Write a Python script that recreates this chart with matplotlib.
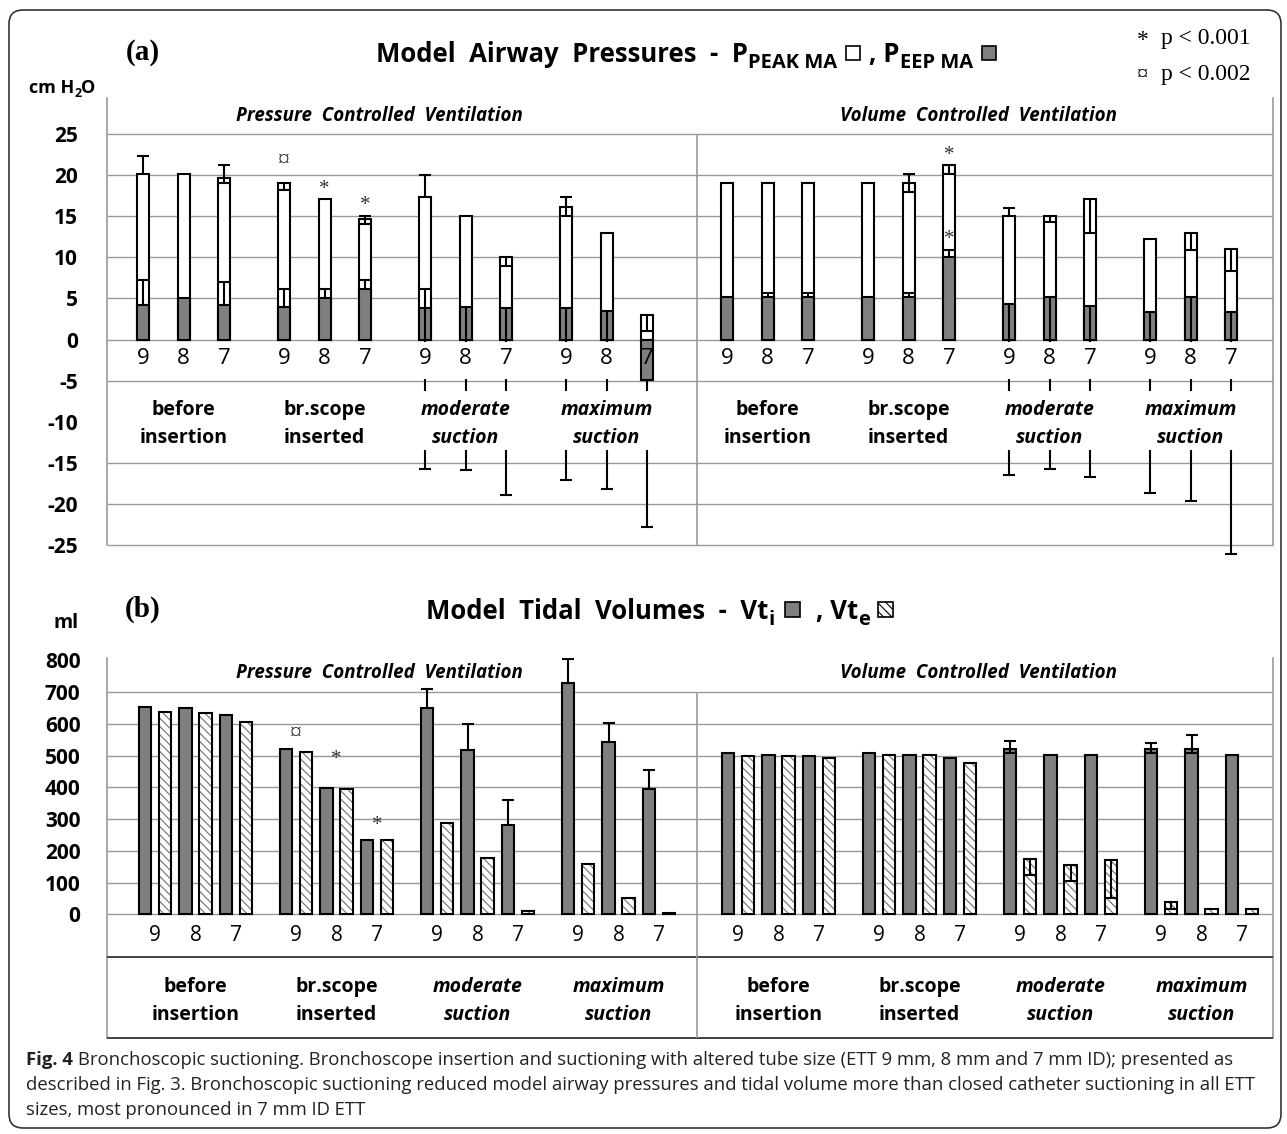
import numpy as np
import matplotlib
matplotlib.use('Agg')
import matplotlib.pyplot as plt
from matplotlib.patches import Rectangle, FancyBboxPatch
from matplotlib.transforms import IdentityTransform

nan = np.nan

# ---- categories ----
sizes = ['9', '8', '7']
phases = ['before\ninsertion', 'br.scope\ninserted', 'moderate\nsuction', 'maximum\nsuction']
phase_italic = [False, False, True, True]
modes = ['Pressure  Controlled  Ventilation', 'Volume  Controlled  Ventilation']

# ---- panel (a): airway pressures, cm H2O (order: phase x ETT 9/8/7) ----
pcv_peak    = [20.1, 20.1, 19.7, 19.0, 17.1, 14.7, 17.3, 15.1, 10.1, 16.1, 13.0, 3.0]
pcv_peak_up = [22.3, nan, 21.3, nan, nan, 15.1, 20.0, nan, nan, 17.3, nan, nan]
pcv_peak_dn = [nan, nan, 19.1, 18.2, nan, 14.1, nan, nan, 9.0, 15.1, nan, 1.0]
pcv_peep    = [4.2, 5.1, 4.2, 4.0, 5.1, 6.1, 3.9, 4.0, 3.9, 3.9, 3.5, -4.9]
pcv_peep_up = [7.2, nan, 7.0, 6.1, 6.2, 7.2, 6.1, nan, nan, nan, nan, nan]
pcv_peep_dn = [nan, nan, nan, nan, nan, nan, -15.7, -15.9, -18.9, -17.1, -18.2, -22.8]

vcv_peak    = [19.1, 19.1, 19.1, 19.1, 19.1, 21.2, 15.1, 15.1, 17.1, 12.3, 13.0, 11.0]
vcv_peak_up = [nan, nan, nan, nan, 20.1, nan, 16.0, nan, nan, nan, nan, nan]
vcv_peak_dn = [nan, nan, nan, nan, 18.0, 20.2, nan, 14.3, 13.0, nan, 10.9, 8.3]
vcv_peep    = [5.2, 5.2, 5.2, 5.2, 5.2, 10.1, 4.3, 5.2, 4.1, 3.3, 5.2, 3.3]
vcv_peep_up = [nan, 5.7, 5.7, nan, 5.7, 10.9, nan, nan, nan, nan, nan, nan]
vcv_peep_dn = [nan, nan, nan, nan, nan, nan, -16.5, -15.7, -16.7, -18.7, -19.7, -26.1]

# significance marks: (mode, index, series, symbol)
a_marks = [(0, 3, 'peak', '¤'), (0, 4, 'peak', '*'), (0, 5, 'peak', '*'),
           (1, 5, 'peak', '*'), (1, 5, 'peep', '*')]

# ---- panel (b): tidal volumes, ml ----
pcv_vti    = [654, 648, 627, 519, 398, 235, 649, 518, 282, 727, 544, 393]
pcv_vti_up = [nan, nan, nan, nan, nan, nan, 709, 599, 361, 803, 602, 453]
pcv_vti_dn = [nan] * 12
pcv_vte    = [638, 634, 606, 512, 393, 235, 288, 176, 10, 158, 52, 4]
pcv_vte_dn = [nan] * 12

vcv_vti    = [509, 503, 498, 509, 503, 491, 519, 503, 503, 519, 519, 503]
vcv_vti_up = [nan, nan, nan, nan, nan, nan, 547, nan, nan, 540, 565, nan]
vcv_vti_dn = [nan, nan, nan, nan, nan, nan, 507, nan, nan, 509, 508, nan]
vcv_vte    = [498, 498, 491, 503, 503, 477, 174, 155, 170, 38, 17, 17]
vcv_vte_dn = [nan, nan, nan, nan, nan, nan, 123, 105, 50, 18, nan, nan]

b_marks = [(0, 3, '¤'), (0, 4, '*'), (0, 5, '*')]

caption_lines = [
    'Bronchoscopic suctioning. Bronchoscope insertion and suctioning with altered tube size (ETT 9 mm, 8 mm and 7 mm ID); presented as',
    'described in Fig. 3. Bronchoscopic suctioning reduced model airway pressures and tidal volume more than closed catheter suctioning in all ETT',
    'sizes, most pronounced in 7 mm ID ETT',
]

# ---- layout ----
W, H = 1287, 1134
X0, X1 = 107, 1273          # plot frame in pixels (used as x data units)
DIV = 697                   # PCV | VCV divider
GROUP, INTRA = 141, 40.5
GREY = '#7f7f7f'
GRID = '#999999'
FONT = 'Open Sans'

plt.rcParams['hatch.color'] = '#707070'
plt.rcParams['hatch.linewidth'] = 0.8
plt.rcParams['axes.unicode_minus'] = False

fig = plt.figure(figsize=(W / 100, H / 100), dpi=100)
ID = IdentityTransform()


def xpos(base):
    return [base + GROUP * g + INTRA * i for g in range(4) for i in range(3)]


def ftext(x, y, s, **kw):
    return fig.text(x, H - y, s, transform=ID, **kw)


def run(x, y, pieces):
    ren = fig.canvas.get_renderer()
    for p in pieces:
        if p[0] == 'txt':
            t = ftext(x, y + p[3], p[1], ha='left', va='baseline', **p[2])
            x += t.get_window_extent(ren).width
        elif p[0] == 'gap':
            x += p[1]
        else:
            s, fc, hatch = p[1], p[2], p[3]
            fig.add_artist(Rectangle((x, H - y + 2), s, s, transform=ID, facecolor=fc,
                                     edgecolor='black', lw=1.2, hatch=hatch))
            x += s


def cap(ax, x, y0, y1, z=3, clip=True, hw=6):
    ax.vlines(x, y0, y1, color='black', lw=1.5, zorder=z, clip_on=clip)
    ax.hlines(y1, x - hw, x + hw, color='black', lw=1.5, zorder=z, clip_on=clip)


def frame(ax, ylo, yhi):
    ax.set_xlim(X0, X1)
    ax.set_ylim(ylo, yhi)
    ax.set_xticks([])
    for s in ['top', 'bottom']:
        ax.spines[s].set_visible(False)
    for s in ['left', 'right']:
        ax.spines[s].set_color(GRID)
        ax.spines[s].set_linewidth(1.2)
    ax.tick_params(axis='y', length=0, labelsize=15)
    for lab in ax.get_yticklabels():
        lab.set_fontweight('bold')
        lab.set_fontfamily(FONT)


def labels(ax, base, y_num, y_cat1, y_cat2, num_size):
    for m, b in enumerate(base):
        xs = xpos(b)
        for k, x in enumerate(xs):
            ax.text(x, y_num, sizes[k % 3], ha='center', va='baseline', fontsize=num_size,
                    family=FONT, zorder=6)
        for g in range(4):
            xc = xs[3 * g + 1]
            l1, l2 = phases[g].split('\n')
            st = 'italic' if phase_italic[g] else 'normal'
            for yy, s in [(y_cat1, l1), (y_cat2, l2)]:
                ax.text(xc, yy, s, ha='center', va='baseline', fontsize=14, weight='bold',
                        style=st, family=FONT, zorder=6)


# ================= panel (a) =================
ax = fig.add_axes([X0 / W, 1 - 545 / H, (X1 - X0) / W, (545 - 98) / H])
ticks_a = list(range(-25, 30, 5))
ax.set_yticks(ticks_a)
frame(ax, -25, 29.4)
ax.tick_params(axis='y', pad=21)
ax.hlines(ticks_a, X0, X1, color=GRID, lw=1.0, zorder=0.5, clip_on=False)
ax.vlines(DIV, -25, 25, color=GRID, lw=1.2, zorder=4)
ax.axhspan(-4.8, -0.3, color='white', lw=0, zorder=1.5)
ax.axhspan(-13.4, -6.3, color='white', lw=0, zorder=1.5)

BW = 12
a_series = [
    (xpos(143), pcv_peak, pcv_peak_up, pcv_peak_dn, pcv_peep, pcv_peep_up, pcv_peep_dn),
    (xpos(727), vcv_peak, vcv_peak_up, vcv_peak_dn, vcv_peep, vcv_peep_up, vcv_peep_dn),
]
for xs, pk, pku, pkd, pe, peu, ped in a_series:
    ax.bar(xs, pk, BW, color='white', edgecolor='black', lw=1.5, zorder=2)
    ax.bar(xs, pe, BW, color=GREY, edgecolor='black', lw=1.5, zorder=2.2)
    for x, p, pu, pd_, e, eu, ed in zip(xs, pk, pku, pkd, pe, peu, ped):
        if not np.isnan(pu):
            cap(ax, x, p, pu)
        if not np.isnan(pd_):
            cap(ax, x, p, pd_)
        if not np.isnan(eu):
            cap(ax, x, e, eu)
        if not np.isnan(ed):
            cap(ax, x, e, ed, z=1, clip=False)
            if e > 0:
                ax.vlines(x, 0, e, color='black', lw=1.5, zorder=3)

mark_off_a = {'*': 4, '¤': 13}
mark_size = {'*': 15, '¤': 17}
for m, i, ser, sym in a_marks:
    xs, pk, pku, pkd, pe, peu, ped = a_series[m]
    if ser == 'peak':
        top = np.nanmax([pk[i], pku[i]])
    else:
        top = np.nanmax([pe[i], peu[i]])
    ax.annotate(sym, (xs[i], top), xytext=(0, mark_off_a[sym]), textcoords='offset points',
                ha='center', va='baseline', fontsize=mark_size[sym], family='Liberation Serif',
                color='#333333', zorder=6)

labels(ax, [143, 727], -2.93, -9.2, -12.6, 16)
for xm, s in zip([379, 979], modes):
    ax.text(xm, 26.6, s, ha='center', va='baseline', fontsize=13.5, weight='bold',
            style='italic', family=FONT)

# ================= panel (b) =================
bx = fig.add_axes([X0 / W, 1 - 1038 / H, (X1 - X0) / W, (1038 - 658) / H])
ticks_b = list(range(0, 900, 100))
bx.set_yticks(ticks_b)
frame(bx, -389.5, 807)
bx.tick_params(axis='y', pad=19)
bx.hlines(ticks_b[:-1], X0, X1, color=GRID, lw=1.0, zorder=0.5)
bx.hlines([-134.4, -389.5], X0, X1, color='#404040', lw=1.4, zorder=4, clip_on=False)
bx.vlines(DIV, -389.5, 700, color=GRID, lw=1.2, zorder=4)

BWB, OFF = 12.5, 10
b_series = [
    (xpos(155), pcv_vti, pcv_vti_up, pcv_vti_dn, pcv_vte, pcv_vte_dn),
    (xpos(738), vcv_vti, vcv_vti_up, vcv_vti_dn, vcv_vte, vcv_vte_dn),
]
for xs, vi, viu, vid, ve, ved in b_series:
    xi = [x - OFF for x in xs]
    xe = [x + OFF for x in xs]
    bx.bar(xi, vi, BWB, color=GREY, edgecolor='black', lw=1.5, zorder=2)
    bx.bar(xe, ve, BWB, color='white', edgecolor='#707070', lw=0, hatch='\\\\\\\\', zorder=2)
    bx.bar(xe, ve, BWB, fill=False, edgecolor='black', lw=1.5, zorder=2.1)
    for x, v, u, d in zip(xi, vi, viu, vid):
        if not np.isnan(u):
            cap(bx, x, v, u)
        if not np.isnan(d):
            cap(bx, x, v, d)
    for x, v, d in zip(xe, ve, ved):
        if not np.isnan(d):
            cap(bx, x, v, d)

mark_off_b = {'*': 7, '¤': 8}
for m, i, sym in b_marks:
    xs, vi, viu, vid, ve, ved = b_series[m]
    top = max(vi[i], ve[i])
    bx.annotate(sym, (xs[i], top), xytext=(0, mark_off_b[sym] + (10 if i == 4 else 0)),
                textcoords='offset points', ha='center', va='baseline',
                fontsize=mark_size[sym], family='Liberation Serif', color='#333333', zorder=6)

labels(bx, [155, 738], -84, -246, -334, 15)
for xm, s in zip([379, 979], modes):
    bx.text(xm, 743, s, ha='center', va='baseline', fontsize=13.5, weight='bold',
            style='italic', family=FONT)

# ================= titles and annotations =================
TB = dict(family=FONT, weight='bold', size=18.5)
SB = dict(family=FONT, weight='bold', size=14.5)
run(376, 62, [('txt', 'Model  Airway  Pressures  -  P', TB, 0), ('txt', 'PEAK MA', SB, 6),
              ('gap', 9), ('box', 14, 'white', None), ('gap', 9),
              ('txt', ', P', TB, 0), ('txt', 'EEP MA', SB, 6), ('gap', 9),
              ('box', 14, GREY, None)])
run(426, 619, [('txt', 'Model  Tidal  Volumes  -  Vt', TB, 0), ('txt', 'i', SB, 6),
               ('gap', 10), ('box', 15, GREY, None), ('gap', 16),
               ('txt', ', Vt', TB, 0), ('txt', 'e', SB, 6), ('gap', 8),
               ('box', 15, 'white', '\\\\\\\\')])

ftext(143, 60, '(a)', ha='center', va='baseline', family='Liberation Serif', weight='bold', size=21)
ftext(143, 617, '(b)', ha='center', va='baseline', family='Liberation Serif', weight='bold', size=21)
run(29, 93, [('txt', 'cm H', dict(family=FONT, weight='bold', size=13), 0),
             ('txt', '2', dict(family=FONT, weight='bold', size=9), 4),
             ('txt', 'O', dict(family=FONT, weight='bold', size=13), 0)])
ftext(79, 628, 'ml', ha='right', va='baseline', family=FONT, weight='bold', size=14)

PV = dict(family='Liberation Serif', size=17)
ftext(1143, 46, '*', ha='center', va='baseline', **PV)
ftext(1161, 44, 'p < 0.001', ha='left', va='baseline', **PV)
ftext(1143, 80, '¤', ha='center', va='baseline', family='Liberation Serif', size=16)
ftext(1161, 80, 'p < 0.002', ha='left', va='baseline', **PV)

# caption
CAP = dict(family=FONT, size=13.3, color='#222222')
run(26, 1065, [('txt', 'Fig. 4 ', dict(CAP, weight='bold'), 0), ('txt', caption_lines[0], CAP, 0)])
for k, line in enumerate(caption_lines[1:]):
    ftext(26, 1090 + 25 * k, line, ha='left', va='baseline', **CAP)

# outer rounded frame
fig.add_artist(FancyBboxPatch((9, H - 1128), 1272, 1118, boxstyle='round,pad=0,rounding_size=14',
                              transform=ID, facecolor='none', edgecolor='#333333', lw=1.2))

fig.savefig('out.png', dpi=100)
